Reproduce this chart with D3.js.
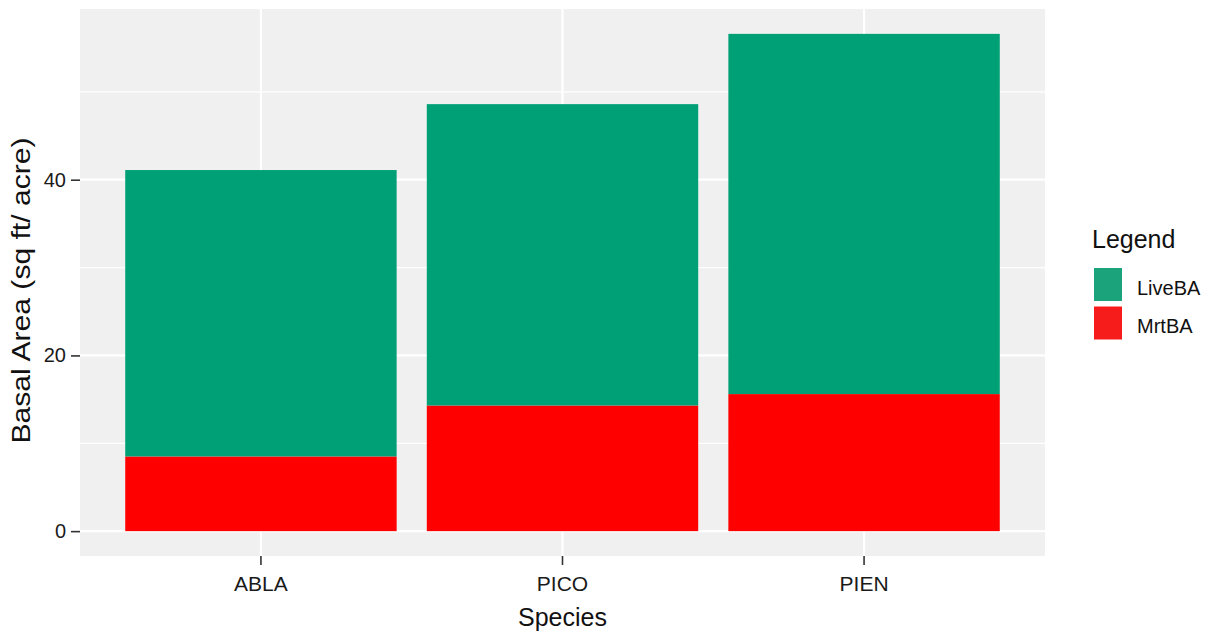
<!DOCTYPE html>
<html><head><meta charset="utf-8">
<script src="https://cdn.jsdelivr.net/npm/d3@7"></script>
<style>body{margin:0;background:#fff;font-family:"Liberation Sans",Arial,sans-serif;}</style>
</head><body><svg id="c" width="1214" height="634"></svg>
<script>
const species = ["ABLA","PICO","PIEN"];
const liveBA = [32.6, 34.3, 41.0];
const mrtBA = [8.5, 14.3, 15.6];
const seriesNames = ["LiveBA","MrtBA"];
const seriesColors = ["#00A076","#FF0000"];
const legendColors = ["#1BA47B","#F71C1C"];
const yTicks = [0,20,40];
const yMinor = [10,30,50];

const FONT = "Liberation Sans, Arial, sans-serif";
const svg = d3.select("#c");
const L=80,R=1045,T=9,B=556;
const rows = species.map((s,i)=>({species:s, MrtBA:mrtBA[i], LiveBA:liveBA[i]}));
const stack = d3.stack().keys(["MrtBA","LiveBA"])(rows);
const maxV = d3.max(rows,d=>d.MrtBA+d.LiveBA);
const y = d3.scaleLinear().domain([-maxV*0.05, maxV*1.05]).range([B,T]);
const x = d3.scaleBand().domain(species).range([L,R]).paddingInner(0.1).paddingOuter(0.15);

svg.append("rect").attr("x",L).attr("y",T).attr("width",R-L).attr("height",B-T).attr("fill","#F0F0F0");
svg.selectAll(".mg").data(yMinor).enter().append("line").attr("x1",L).attr("x2",R)
 .attr("y1",d=>y(d)).attr("y2",d=>y(d)).attr("stroke","#fff").attr("stroke-width",1.2);
svg.selectAll(".Mg").data(yTicks).enter().append("line").attr("x1",L).attr("x2",R)
 .attr("y1",d=>y(d)).attr("y2",d=>y(d)).attr("stroke","#fff").attr("stroke-width",2.2);
svg.selectAll(".xg").data(species).enter().append("line").attr("y1",T).attr("y2",B)
 .attr("x1",d=>x(d)+x.bandwidth()/2).attr("x2",d=>x(d)+x.bandwidth()/2).attr("stroke","#fff").attr("stroke-width",2.2);

const colorOf = {LiveBA:seriesColors[0], MrtBA:seriesColors[1]};
stack.forEach(layer=>{
  svg.selectAll(".b"+layer.key).data(layer).enter().append("rect")
   .attr("x",d=>x(d.data.species)).attr("width",x.bandwidth())
   .attr("y",d=>y(d[1])).attr("height",d=>y(d[0])-y(d[1]))
   .attr("fill",colorOf[layer.key]);
});

const ya = svg.append("g").attr("transform",`translate(${L},0)`)
 .call(d3.axisLeft(y).tickValues(yTicks).tickSize(9).tickPadding(5));
ya.select(".domain").remove();
ya.selectAll("line").attr("stroke","#333").attr("stroke-width",1.6);
ya.selectAll("text").attr("font-size",20).attr("fill","#1a1a1a").attr("font-family",FONT);

const xa = svg.append("g").attr("transform",`translate(0,${B})`)
 .call(d3.axisBottom(x).tickSize(9).tickPadding(11));
xa.select(".domain").remove();
xa.selectAll("line").attr("stroke","#333").attr("stroke-width",1.6);
xa.selectAll("text").attr("font-size",21).attr("fill","#1a1a1a").attr("font-family",FONT);

svg.append("text").attr("x",(L+R)/2).attr("y",626).attr("text-anchor","middle")
 .attr("font-size",25).attr("fill","#111").text("Species");
svg.append("text").attr("transform",`translate(30,${(T+B)/2+8}) rotate(-90)`).attr("text-anchor","middle")
 .attr("font-size",26).attr("fill","#111").attr("textLength",306).attr("lengthAdjust","spacingAndGlyphs")
 .text("Basal Area (sq ft/ acre)");

svg.append("text").attr("x",1092).attr("y",248).attr("font-size",25).attr("fill","#111").text("Legend");
seriesNames.forEach((n,i)=>{
  svg.append("rect").attr("x",1094).attr("y",268+i*38.5).attr("width",28).attr("height",33).attr("fill",legendColors[i]);
  svg.append("text").attr("x",1137).attr("y",295+i*38).attr("font-size",20).attr("fill","#111").text(n);
});
</script></body></html>
